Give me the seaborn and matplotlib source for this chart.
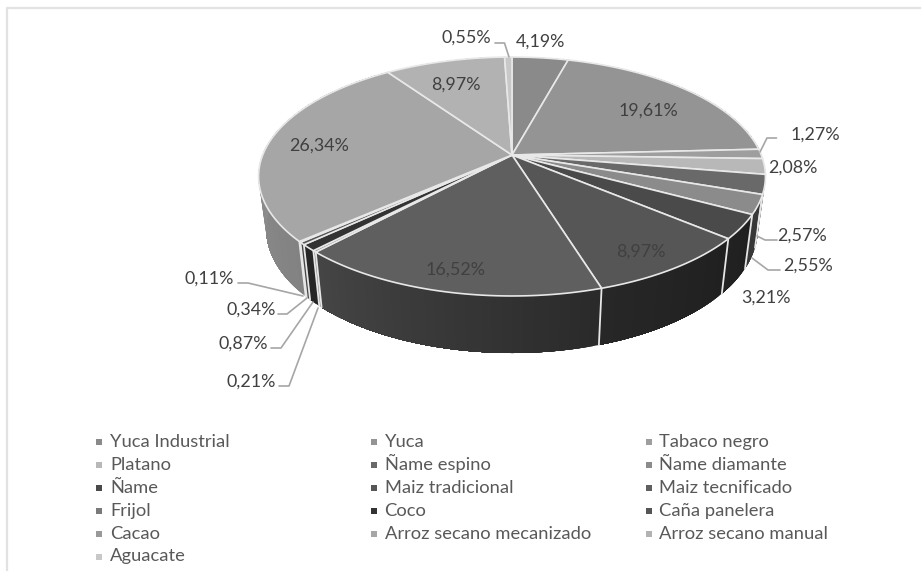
# 3D style pie of crop shares, greyscale, drawn with ax.pie and a perspective transform
import numpy as np
import matplotlib
matplotlib.use('Agg')
import matplotlib.pyplot as plt
import seaborn as sns
from matplotlib.path import Path
from matplotlib.transforms import Affine2D, Transform

# -------------------------------
# Data
# -------------------------------
crops = ['Yuca Industrial', 'Yuca', 'Tabaco negro', 'Platano', 'Ñame espino', 'Ñame diamante',
         'Ñame', 'Maiz tradicional', 'Maiz tecnificado', 'Frijol', 'Coco', 'Caña panelera',
         'Cacao', 'Arroz secano mecanizado', 'Arroz secano manual', 'Aguacate']
shares = [4.19, 19.61, 1.27, 2.08, 2.57, 2.55, 3.21, 8.97, 16.52, 0.21, 0.87, 0.34, 0.11, 26.34, 8.97, 0.55]

top_colors = ['#8a8a8a', '#949494', '#9e9e9e', '#b8b8b8', '#696969', '#8b8b8b', '#4a4a4a', '#565656',
              '#5f5f5f', '#7a7a7a', '#333333', '#555555', '#999999', '#a6a6a6', '#b2b2b2', '#c8c8c8']
# side wall shade at the clockwise start and end of each slice
wall_start = ['#666666', '#707070', '#787878', '#888888', '#303030', '#383838', '#1f1f1f', '#202020',
              '#2a2a2a', '#777777', '#262626', '#444444', '#888888', '#828282', '#888888', '#999999']
wall_end = ['#666666', '#707070', '#787878', '#888888', '#303030', '#383838', '#222222', '#272727',
            '#454545', '#777777', '#262626', '#444444', '#888888', '#9c9c9c', '#888888', '#999999']

# label centre, then the leader line if the label has one (pixels)
label_pos = [(541, 40), (648, 109), (815, 133), (793, 166), (802, 234), (808, 264), (766, 296), (641, 250),
             (456, 268), (251, 380), (243, 342), (251, 308), (209, 277), (319, 144), (456, 83), (466, 36)]
leaders = [[(495, 43), (504.5, 43), (509, 57)],
           [(776.5, 138), (767, 138), (760, 152)],
           [(777, 240), (765, 240), (757, 236)],
           [(780, 270), (768, 270), (752, 258)],
           [(238, 283), (248, 283), (303, 296)],
           [(278, 314), (287, 314), (307, 298)],
           [(271, 348), (281, 348), (313, 302)],
           [(279, 386), (289, 386), (318, 308)]]

# -------------------------------
# Perspective of the pie top
# -------------------------------
CX, CY = 512, 155
K, RX, RY = 0.18, 249.3, 115.6


def project(xy):
    xy = np.asarray(xy, dtype=float)
    w = 1 + K * xy[..., 1]
    return np.stack([CX + RX * xy[..., 0] / w, CY - RY * xy[..., 1] / w], axis=-1)


def lower_rim(pts):
    # bottom rim is the top rim shifted down and a bit narrower
    out = np.array(pts, dtype=float)
    out[..., 0] = CX + 0.97 * (out[..., 0] - CX)
    out[..., 1] = 229 + 1.038 * (out[..., 1] - 176.5)
    return out


class PiePerspective(Transform):
    input_dims = 2
    output_dims = 2
    has_inverse = False

    def transform_non_affine(self, values):
        return project(values)

    def transform_path_non_affine(self, path):
        # flatten the arcs first, the projection is not affine
        poly = path.to_polygons(transform=Affine2D().scale(2000), closed_only=True)[0] / 2000
        return Path(project(poly), closed=True)


def rim(theta):
    t = np.radians(theta)
    return project(np.stack([np.cos(t), np.sin(t)], axis=-1))


def mix(c1, c2, f):
    a, b = np.array(matplotlib.colors.to_rgb(c1)), np.array(matplotlib.colors.to_rgb(c2))
    return a + (b - a) * f


# -------------------------------
# Figure
# -------------------------------
sns.set_theme(style="white")
plt.rcParams['font.family'] = ['Lato', 'DejaVu Sans']

fig = plt.figure(figsize=(9.21, 5.71), dpi=100)
ax = fig.add_axes([0, 0, 1, 1])

wedges, _ = ax.pie(shares, colors=sns.color_palette(top_colors), startangle=90, counterclock=False,
                   wedgeprops=dict(edgecolor='#e8e8e8', linewidth=1.2))
ax.set_aspect('auto')
ax.set_xlim(0, 921)
ax.set_ylim(571, 0)
ax.axis('off')

persp = PiePerspective()
for w in wedges:
    w.set_transform(persp + ax.transData)
    w.set_zorder(4)
    w.set_clip_on(False)

# side wall, thin strips for the shading
for i, w in enumerate(wedges):
    span = w.theta2 - w.theta1
    n = max(2, int(span / 1.0) + 1)
    angles = np.linspace(w.theta2, w.theta1, n)
    upper = rim(angles)
    lower = lower_rim(upper)
    for j in range(n - 1):
        # each strip runs to the end of the slice so no seams show between them
        quad = np.vstack([upper[j:], lower[j:][::-1]])
        c = mix(wall_start[i], wall_end[i], j / max(n - 2, 1))
        ax.fill(quad[:, 0], quad[:, 1], facecolor=c, edgecolor='none', zorder=2)
    # light seam between slices
    ax.plot([upper[0, 0], lower[0, 0]], [upper[0, 1], lower[0, 1]], color='#e6e6e6', lw=1.3, zorder=3)

# labels and leader lines
for i, (x, y) in enumerate(label_pos):
    ax.text(x, y + 1.5, f'{shares[i]:.2f}%'.replace('.', ','), ha='center', va='center',
            fontsize=12.9, color='#404040', zorder=6)
for line in leaders:
    xs, ys = zip(*line)
    ax.plot(xs, ys, color='#a6a6a6', lw=1.2, zorder=5)

# legend written out by row, the source keeps an even row height that ax.legend does not give
for i, name in enumerate(crops):
    row, col = divmod(i, 3)
    y = 442 + row * 22.9
    ax.scatter([[99, 373.5, 649][col]], [y], marker='s', s=14, color=top_colors[i], linewidths=0, zorder=6)
    ax.text([110, 384.5, 659][col], y + 5, name, ha='left', va='baseline', fontsize=13.2, color='#595959', zorder=6)

# chart frame, open at the right and bottom like the source crop
ax.plot([7, 7, 921], [571, 8, 8], color='#e2e2e2', lw=1.6, zorder=0)

plt.savefig('out.png', dpi=100)
